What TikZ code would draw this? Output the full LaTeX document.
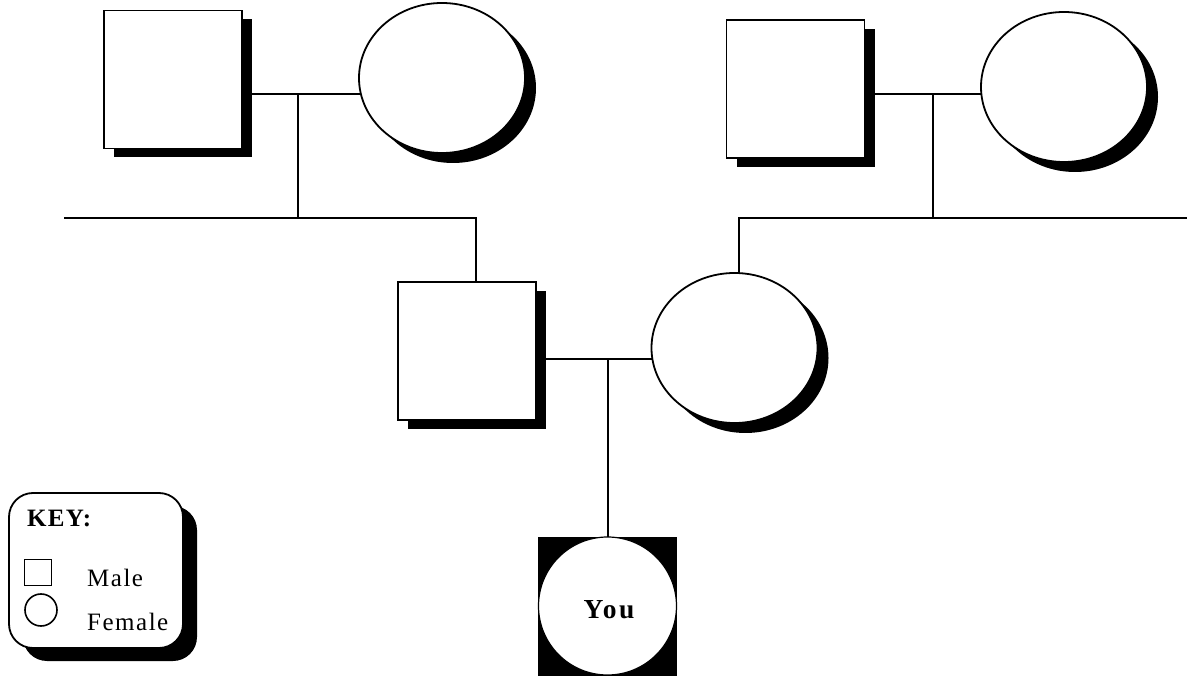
\documentclass[tikz,border=0pt]{standalone}
\usepackage{fontspec}
\setmainfont{Liberation Serif}
\newfontfamily\keyfont[LetterSpace=6]{Liberation Serif}
\newfontfamily\titlefont[LetterSpace=5]{Liberation Serif}
\newfontfamily\youfont[LetterSpace=9]{Liberation Serif}
\usetikzlibrary{shapes.geometric,shadows,backgrounds}
\begin{document}
\begin{tikzpicture}[x=1pt,y=-1pt,
  person/.style={draw=black, fill=white, line width=1.8pt, inner sep=0pt},
  male/.style={person, rectangle, minimum width=138pt, minimum height=138pt,
    drop shadow={shadow xshift=10pt, shadow yshift=-9pt, fill=black, opacity=1}},
  female/.style={person, ellipse, minimum width=166pt, minimum height=150pt,
    drop shadow={shadow xshift=11pt, shadow yshift=-10pt, fill=black, opacity=1}},
  link/.style={line width=2pt, line cap=rect},
  keytext/.style={anchor=base west, inner sep=0pt, font=\keyfont\fontsize{25}{25}\selectfont}
]
\useasboundingbox (0,0) rectangle (1187,676);

% persons
\node[male] (gf1) at (173,79.5) {};
\node[female] (gm1) at (442,78) {};
\node[male] (gf2) at (795.5,89) {};
\node[female] (gm2) at (1064,87) {};
\node[male] (fa) at (467,351) {};
\node[female] (mo) at (734.5,348) {};

% you
\node[rectangle, fill=black, minimum size=139pt, inner sep=0pt] (yousq) at (607.5,606) {};
\node[circle, draw=black, fill=white, line width=1.2pt, minimum size=138pt, inner sep=0pt] (you) at (607.5,606) {};
\node[anchor=base, inner sep=0pt, font=\youfont\bfseries\fontsize{27.5}{27.5}\selectfont] (youtext) at (609,618.5) {You};

% connectors
\begin{pgfonlayer}{background}
\coordinate (m1) at (298,94);
\coordinate (m2) at (933,94);
\coordinate (m3) at (608,359);
\coordinate (l1) at (65,218.5);
\coordinate (s1) at (476,218.5);
\coordinate (r1) at (1187,218.5);
\coordinate (s2) at (739,218.5);
\draw[link] (gf1.center |- m1) -- (gm1.center |- m1);
\draw[link] (m1) -- (m1 |- l1);
\draw[link] (l1) -- (s1) -- (s1 |- fa.center);
\draw[link] (gf2.center |- m2) -- (gm2.center |- m2);
\draw[link] (m2) -- (m2 |- r1);
\draw[link] (r1) -- (s2) -- (s2 |- mo.center);
\draw[link] (fa.center |- m3) -- (mo.center |- m3);
\draw[link] (m3) -- (m3 |- you.center);
\end{pgfonlayer}

% key
\node[draw=black, fill=white, line width=1.8pt, rounded corners=24pt,
  minimum width=174pt, minimum height=155pt, inner sep=0pt,
  drop shadow={shadow xshift=14pt, shadow yshift=-13pt, fill=black, opacity=1}] (key) at (96,570.5) {};
\node[anchor=base west, inner sep=0pt, font=\titlefont\bfseries\fontsize{25}{25}\selectfont] (keytitle) at (27,526) {KEY:};
\node[draw=black, line width=1.6pt, minimum width=27pt, minimum height=26pt, inner sep=0pt] (keymale) at (38,572.5) {};
\node[draw=black, circle, line width=1.6pt, minimum size=32pt, inner sep=0pt] (keyfemale) at (41,610) {};
\node[keytext] (maletext) at (87,586.5) {Male};
\node[keytext] (femaletext) at (87,630.5) {Female};
\end{tikzpicture}
\end{document}
